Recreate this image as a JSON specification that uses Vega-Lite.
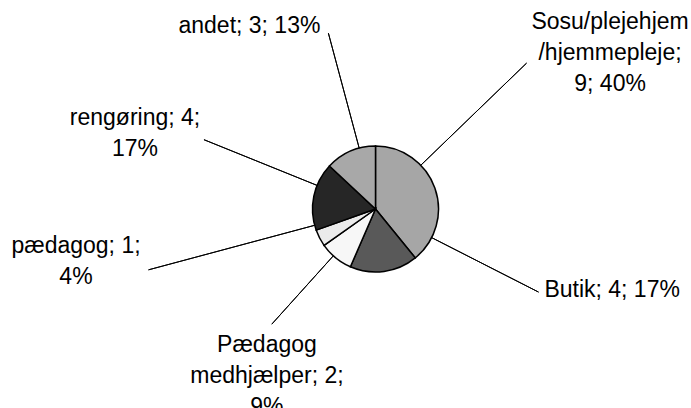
{
  "$schema": "https://vega.github.io/schema/vega-lite/v6.json",
  "width": 631,
  "height": 398,
  "autosize": "none",
  "padding": {"left": 60, "top": 10, "right": 0, "bottom": 0},
  "background": "white",
  "view": {"stroke": null},
  "data": {
    "values": [
      {"kategori": "Sosu/plejehjem/hjemmepleje", "antal": 9, "rank": 1, "label": "Sosu/plejehjem\n/hjemmepleje;\n9; 40%"},
      {"kategori": "Butik", "antal": 4, "rank": 2, "label": "Butik; 4; 17%"},
      {"kategori": "Pædagog medhjælper", "antal": 2, "rank": 3, "label": "Pædagog\nmedhjælper; 2;\n9%"},
      {"kategori": "pædagog", "antal": 1, "rank": 4, "label": "pædagog; 1;\n4%"},
      {"kategori": "rengøring", "antal": 4, "rank": 5, "label": "rengøring; 4;\n17%"},
      {"kategori": "andet", "antal": 3, "rank": 6, "label": "andet; 3; 13%"}
    ]
  },
  "encoding": {
    "theta": {"field": "antal", "type": "quantitative", "stack": true},
    "order": {"field": "rank", "type": "quantitative"}
  },
  "layer": [
    {
      "mark": {"type": "arc", "outerRadius": 63, "stroke": "black", "strokeWidth": 1.5},
      "encoding": {
        "color": {
          "field": "kategori",
          "type": "nominal",
          "scale": {
            "domain": ["Sosu/plejehjem/hjemmepleje", "Butik", "Pædagog medhjælper", "pædagog", "rengøring", "andet"],
            "range": ["#a6a6a6", "#595959", "#f7f7f7", "#ebebeb", "#262626", "#a8a8a8"]
          },
          "legend": null
        }
      }
    },
    {
      "mark": {"type": "arc", "innerRadius": 63, "outerRadius": 210, "padAngle": 3.14, "thetaOffset": -0.4264, "theta2Offset": -0.4264, "fill": "transparent", "stroke": "black", "strokeWidth": 1},
      "encoding": {"strokeOpacity": {"condition": {"test": "datum.rank === 1", "value": 1}, "value": 0}}
    },
    {
      "mark": {"type": "arc", "innerRadius": 63, "outerRadius": 183, "padAngle": 3.14, "thetaOffset": -0.9629, "theta2Offset": -0.9629, "fill": "transparent", "stroke": "black", "strokeWidth": 1},
      "encoding": {"strokeOpacity": {"condition": {"test": "datum.rank === 2", "value": 1}, "value": 0}}
    },
    {
      "mark": {"type": "arc", "innerRadius": 63, "outerRadius": 155, "padAngle": 3.14, "thetaOffset": 0.0501, "theta2Offset": 0.0501, "fill": "transparent", "stroke": "black", "strokeWidth": 1},
      "encoding": {"strokeOpacity": {"condition": {"test": "datum.rank === 3", "value": 1}, "value": 0}}
    },
    {
      "mark": {"type": "arc", "innerRadius": 63, "outerRadius": 235, "padAngle": 3.14, "thetaOffset": 0.2162, "theta2Offset": 0.2162, "fill": "transparent", "stroke": "black", "strokeWidth": 1},
      "encoding": {"strokeOpacity": {"condition": {"test": "datum.rank === 4", "value": 1}, "value": 0}}
    },
    {
      "mark": {"type": "arc", "innerRadius": 63, "outerRadius": 185, "padAngle": 3.14, "thetaOffset": 0.1791, "theta2Offset": 0.1791, "fill": "transparent", "stroke": "black", "strokeWidth": 1},
      "encoding": {"strokeOpacity": {"condition": {"test": "datum.rank === 5", "value": 1}, "value": 0}}
    },
    {
      "mark": {"type": "arc", "innerRadius": 63, "outerRadius": 182, "padAngle": 3.14, "thetaOffset": 0.148, "theta2Offset": 0.148, "fill": "transparent", "stroke": "black", "strokeWidth": 1},
      "encoding": {"strokeOpacity": {"condition": {"test": "datum.rank === 6", "value": 1}, "value": 0}}
    },
    {
      "mark": {"type": "text", "radius": 300, "thetaOffset": -0.3316, "font": "Liberation Sans", "fontSize": 23, "lineBreak": "\n", "lineHeight": 31, "align": "center", "baseline": "middle", "color": "black"},
      "encoding": {"text": {"condition": {"test": "datum.rank === 1", "field": "label", "type": "nominal"}, "value": ""}}
    },
    {
      "mark": {"type": "text", "radius": 250, "thetaOffset": -1.106, "font": "Liberation Sans", "fontSize": 23, "lineBreak": "\n", "lineHeight": 31, "align": "center", "baseline": "middle", "color": "black"},
      "encoding": {"text": {"condition": {"test": "datum.rank === 2", "field": "label", "type": "nominal"}, "value": ""}}
    },
    {
      "mark": {"type": "text", "radius": 174, "thetaOffset": -0.0093, "font": "Liberation Sans", "fontSize": 23, "lineBreak": "\n", "lineHeight": 31, "align": "center", "baseline": "middle", "color": "black"},
      "encoding": {"text": {"condition": {"test": "datum.rank === 3", "field": "label", "type": "nominal"}, "value": ""}}
    },
    {
      "mark": {"type": "text", "radius": 301.8, "thetaOffset": 0.3552, "font": "Liberation Sans", "fontSize": 23, "lineBreak": "\n", "lineHeight": 31, "align": "center", "baseline": "middle", "color": "black"},
      "encoding": {"text": {"condition": {"test": "datum.rank === 4", "field": "label", "type": "nominal"}, "value": ""}}
    },
    {
      "mark": {"type": "text", "radius": 257.1, "thetaOffset": 0.1569, "font": "Liberation Sans", "fontSize": 23, "lineBreak": "\n", "lineHeight": 31, "align": "center", "baseline": "middle", "color": "black"},
      "encoding": {"text": {"condition": {"test": "datum.rank === 5", "field": "label", "type": "nominal"}, "value": ""}}
    },
    {
      "mark": {"type": "text", "radius": 222.6, "thetaOffset": -0.1923, "font": "Liberation Sans", "fontSize": 23, "lineBreak": "\n", "lineHeight": 31, "align": "center", "baseline": "middle", "color": "black"},
      "encoding": {"text": {"condition": {"test": "datum.rank === 6", "field": "label", "type": "nominal"}, "value": ""}}
    }
  ]
}
